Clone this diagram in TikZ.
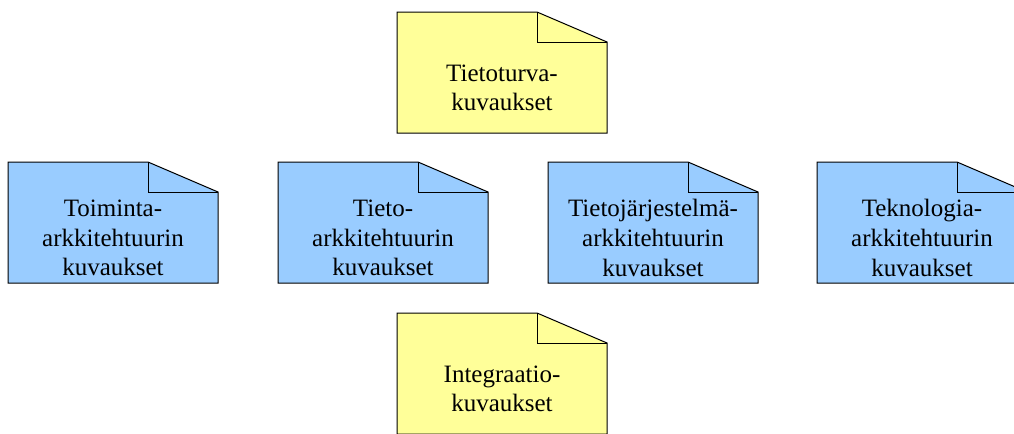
\documentclass[tikz,border=0pt]{standalone}
\usepackage{fontspec}
\setmainfont{Liberation Serif}
\definecolor{noteyellow}{HTML}{FFFF99}
\definecolor{noteblue}{HTML}{99CCFF}
\tikzset{
  notefold/.style={draw=black, line width=0.75pt, line join=miter},
  notetext/.style={align=center, inner sep=0pt,
    font=\fontsize{18.75}{22.2}\selectfont},
}
% Note sheet with a folded top-right corner:
% #1 name, #2 left, #3 top, #4 fill colour, #5 text
\newcommand\notesheet[5]{%
  \filldraw[notefold, fill=#4] (#2,#3) -- (#2+140,#3) -- (#2+210,#3+30)
    -- (#2+210,#3+121) -- (#2,#3+121) -- cycle;
  \draw[notefold] (#2+140,#3) -- (#2+140,#3+30) -- (#2+210,#3+30);
  \node[notetext] (#1) at (#2+105,#3+76) {#5};
}
\begin{document}
\begin{tikzpicture}[x=0.75pt, y=-0.75pt]
  \useasboundingbox (0,0) rectangle (1014,433);
  \clip (0,0) rectangle (1014,433);
  \notesheet{security}{397}{12}{noteyellow}{Tietoturva-\\kuvaukset}
  \notesheet{business}{8}{162}{noteblue}{Toiminta-\\arkkitehtuurin\\kuvaukset}
  \notesheet{information}{278}{162}{noteblue}{Tieto-\\arkkitehtuurin\\kuvaukset}
  \notesheet{systems}{548}{162}{noteblue}{Tietojärjestelmä-\\arkkitehtuurin\\kuvaukset}
  \notesheet{technology}{817}{162}{noteblue}{Teknologia-\\arkkitehtuurin\\kuvaukset}
  \notesheet{integration}{397}{313}{noteyellow}{Integraatio-\\kuvaukset}
\end{tikzpicture}
\end{document}
